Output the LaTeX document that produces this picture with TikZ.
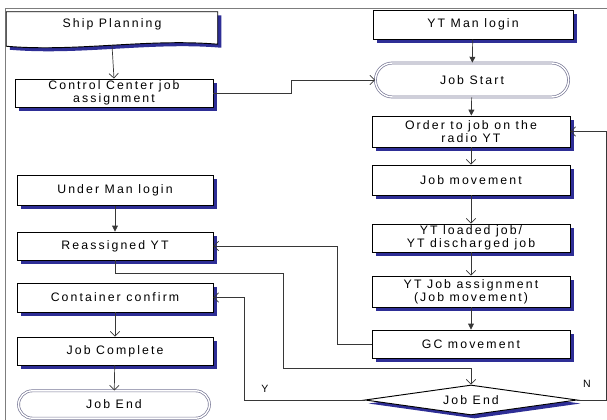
\documentclass[tikz,border=0pt]{standalone}
\usepackage{fontspec}
\newfontfamily\chartfont{Liberation Sans}[LetterSpace=17]
\usetikzlibrary{positioning, arrows.meta, shapes.geometric, shapes.misc, shadows, calc}
\definecolor{shadowblue}{RGB}{46,46,150}
\definecolor{framegray}{RGB}{125,125,125}
\definecolor{linegray}{RGB}{55,55,55}
\definecolor{endgray}{RGB}{120,120,150}

\begin{document}
\begin{tikzpicture}[
  x=0.3mm, y=-0.3mm,
  every node/.style={font=\chartfont\fontsize{10.5}{11.2}\selectfont},
  boxshadow/.style={general shadow={fill=shadowblue, shadow xshift=3pt, shadow yshift=-3pt}},
  task/.style={draw, line width=0.8pt, fill=white, boxshadow, align=center, inner sep=1pt,
    minimum width=59.4mm, minimum height=9mm},
  terminal/.style={rounded rectangle, draw=endgray, double=white, double distance=1.2pt,
    line width=0.6pt, fill=white, minimum width=59.6mm, minimum height=9.8mm},
  decision/.style={diamond, aspect=7, draw, line width=0.8pt, fill=white, boxshadow, inner sep=0pt,
    minimum width=63.6mm, minimum height=9mm},
  flow/.style={draw=linegray, line width=0.6pt},
  barb/.style={flow, -{Straight Barb[length=4pt, width=8pt]}},
  filltip/.style={flow, -{Triangle[length=5pt, width=5pt]}}
]
\useasboundingbox (0,0) rectangle (607,420);

% outer frame
\draw[framegray, line width=0.8pt] (5,420) -- (5,8) -- (607,8);

% left column
\node[minimum width=63.3mm, minimum height=7.2mm, inner sep=0pt] (ship) at (112,24) {};
\draw[line width=0.8pt, fill=white, boxshadow] (ship.north west) -- (ship.north east)
  -- ($(ship.south east)+(0,8)$)
  .. controls +(-70,-6) and +(70,6) .. ($(ship.south west)+(0,10)$) -- cycle;
\node at (ship) {Ship Planning};
\coordinate (shipfoot) at ($(ship.south)+(0,9)$);

\node[task, minimum height=8.4mm] (ccja) at (114,93) {Control Center job\\assignment};

\node[task, minimum width=58.8mm] (underlogin) at (115,190.5) {Under Man login};
\node[task, minimum width=58.8mm, minimum height=8.4mm] (reassigned) at (115,246) {Reassigned YT};
\node[task, minimum width=58.8mm, minimum height=8.7mm] (container) at (115,297.5) {Container confirm};
\node[task, minimum width=58.8mm, minimum height=8.4mm] (jobcomplete) at (115,351) {Job Complete};
\node[terminal, minimum height=8.2mm] (jobend) at (114,404.5) {Job End};

% right column
\node[task, minimum width=60mm, minimum height=8.7mm] (ytlogin) at (473,24.5) {YT Man login};
\node[terminal, minimum width=60.3mm, minimum height=10.2mm] (jobstart) at (472,80) {Job Start};
\node[task, minimum height=9.3mm] (order) at (471,131.5) {Order to job on the\\radio YT};
\node[task] (jobmove) at (471,180) {Job movement};
\node[task, minimum height=8.4mm] (ytloaded) at (471,238) {YT loaded job/\\YT discharged job};
\node[task, minimum height=9.3mm] (ytassign) at (471,291.5) {YT Job assignment\\(Job movement)};
\node[task, minimum height=8.4mm] (gc) at (471,344) {GC movement};
\node[decision] (jobendq) at (471,400) {Job End};

% connectors
\draw[barb] (shipfoot) -- (ccja.north);
\draw[barb] (ccja.east) -- ++(78,0) |- (jobstart.west);
\draw[filltip] (ytlogin) -- (jobstart);
\draw[filltip] (jobstart) -- (order);
\draw[barb] (order) -- (jobmove);
\draw[barb] (jobmove) -- (ytloaded);
\draw[barb] (ytloaded) -- (ytassign);
\draw[filltip] (ytassign) -- (gc);
\draw[barb] (gc.west) -- ++(-34,0) |- (reassigned.east);
\draw[barb] (reassigned.south) -- ++(0,13) -- ++(168,0) -- ++(0,95) -| (jobendq.north);
\draw[barb] (jobendq.west) -- ++(-120,0) |- (container.east);
\draw[barb] (jobendq.east) -- ++(29,0) |- (order.east);
\draw[filltip] (underlogin) -- (reassigned);
\draw[barb] (container) -- (jobcomplete);
\draw[barb] (jobcomplete) -- (jobend);

% branch labels
\node[font=\chartfont\fontsize{9}{10}\selectfont] (ylabel) at (265,389) {Y};
\node[font=\chartfont\fontsize{9}{10}\selectfont] (nlabel) at (587,384) {N};

\end{tikzpicture}
\end{document}
